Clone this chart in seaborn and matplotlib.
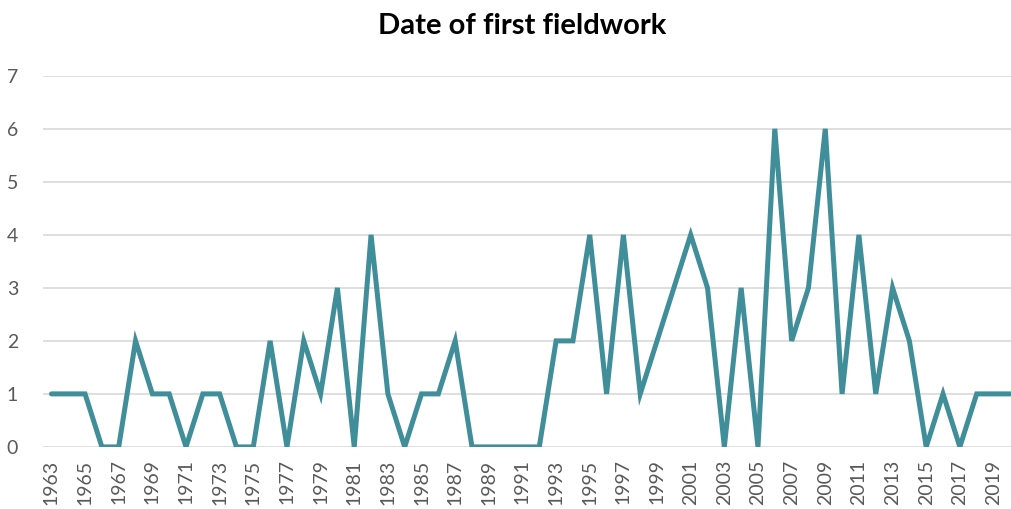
import matplotlib
matplotlib.use("Agg")
import matplotlib.pyplot as plt
import seaborn as sns
import pandas as pd

# first fieldwork counts per year
years = list(range(1963, 2021))
counts = [1, 1, 1, 0, 0, 2, 1, 1, 0, 1,
          1, 0, 0, 2, 0, 2, 1, 3, 0, 4,
          1, 0, 1, 1, 2, 0, 0, 0, 0, 0,
          2, 2, 4, 1, 4, 1, 2, 3, 4, 3,
          0, 3, 0, 6, 2, 3, 6, 1, 4, 1,
          3, 2, 0, 1, 0, 1, 1, 1]
tick_years = list(range(1963, 2020, 2))
y_ticks = list(range(0, 8))

df = pd.DataFrame({"Year": years, "Count": counts})

sns.set_style("white")
plt.rcParams['font.family'] = ['Lato', 'DejaVu Sans']

fig = plt.figure(figsize=(10.12, 5.09), dpi=100)
ax = fig.add_axes([0.0425, 0.122, 0.9575, 0.729])

sns.lineplot(data=df, x="Year", y="Count", ax=ax, color="#3f8e99",
             linewidth=3.6, solid_joinstyle="miter")

ax.set_xlim(1962.5, 2020.1)
ax.set_ylim(0, 7)
ax.set_xticks(tick_years)
ax.set_xticklabels([str(y) for y in tick_years], rotation=90)
ax.set_yticks(y_ticks)
ax.tick_params(axis="x", length=0, pad=9, labelsize=14, labelcolor="#595959")
ax.tick_params(axis="y", length=0, pad=18, labelsize=14, labelcolor="#595959")
ax.yaxis.grid(True, color="#d9d9d9", linewidth=1.2)
ax.set_axisbelow(True)
for s in ax.spines.values():
    s.set_visible(False)
ax.set_xlabel("")
ax.set_ylabel("")

fig.text(0.516, 0.948, "Date of first fieldwork", ha="center", va="center",
         fontsize=21, fontweight="bold", color="black")

fig.savefig("out.png", dpi=100)
